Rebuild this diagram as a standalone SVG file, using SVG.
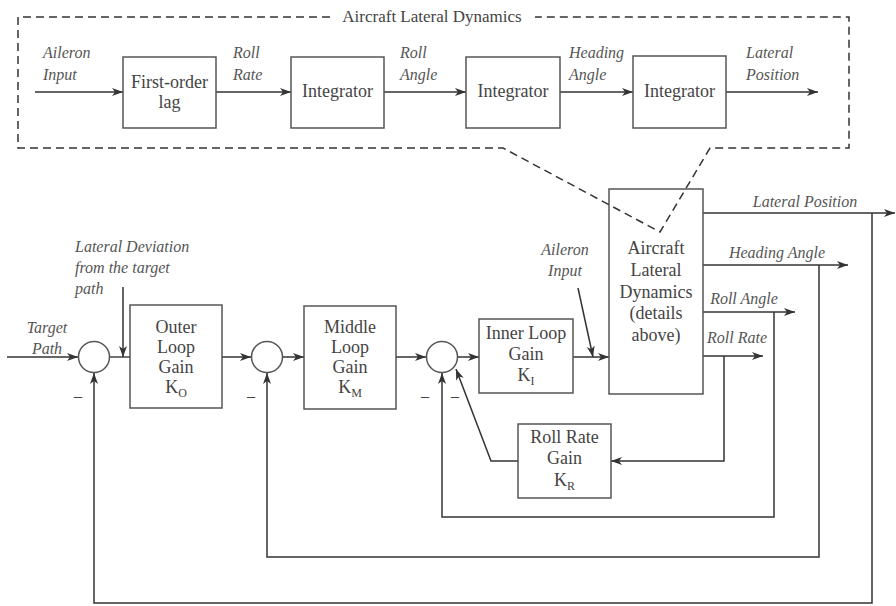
<svg xmlns="http://www.w3.org/2000/svg" width="896" height="606" viewBox="0 0 896 606">
<defs>
<marker id="ah" markerUnits="userSpaceOnUse" markerWidth="12" markerHeight="9" refX="11" refY="4" orient="auto">
<path d="M0,0 L11,4 L0,8 L3,4 z" fill="#333"/>
</marker>
<style>
.bx{fill:#fff;stroke:#555;stroke-width:1.5}
.ln{fill:none;stroke:#444;stroke-width:1.5}
.ar{fill:none;stroke:#333;stroke-width:1.5;marker-end:url(#ah)}
.ds{fill:none;stroke:#333;stroke-width:1.5;stroke-dasharray:8,5}
.t{font-family:"Liberation Serif","Times New Roman",serif;font-size:18px;fill:#444;text-anchor:middle}
.i{font-family:"Liberation Serif","Times New Roman",serif;font-size:16px;font-style:italic;fill:#555}
.ic{text-anchor:middle}
.sm{font-family:"Liberation Serif",serif;font-size:16px;fill:#444;text-anchor:middle}
.sub{font-size:12px}
</style>
</defs>
<rect width="896" height="606" fill="#fff"/>

<g id="connectors">
<!-- top chain -->
<line class="ar" x1="35" y1="92" x2="123" y2="92"/>
<line class="ar" x1="216" y1="92" x2="291" y2="92"/>
<line class="ar" x1="384" y1="92" x2="466" y2="92"/>
<line class="ar" x1="560" y1="92" x2="633" y2="92"/>
<line class="ar" x1="726" y1="92" x2="818" y2="92"/>
<!-- main forward path -->
<line class="ar" x1="7" y1="357" x2="78" y2="357"/>
<line class="ln" x1="110" y1="357" x2="130" y2="357"/>
<line class="ar" x1="123" y1="287" x2="123" y2="357"/>
<line class="ar" x1="222" y1="357" x2="251" y2="357"/>
<line class="ar" x1="283" y1="357" x2="304" y2="357"/>
<line class="ar" x1="396" y1="357" x2="426" y2="357"/>
<line class="ar" x1="458" y1="357" x2="479" y2="357"/>
<line class="ar" x1="573" y1="357" x2="609" y2="357"/>
<line class="ar" x1="578" y1="288" x2="593" y2="357"/>
<!-- outputs -->
<line class="ar" x1="703" y1="213" x2="895" y2="213"/>
<line class="ar" x1="703" y1="265" x2="848" y2="265"/>
<line class="ar" x1="703" y1="312" x2="795" y2="312"/>
<line class="ar" x1="703" y1="356" x2="763" y2="356"/>
<!-- feedback loops -->
<path class="ar" d="M872,213 L872,603 L94,603 L94,373"/>
<path class="ar" d="M819,265 L819,557 L267,557 L267,373"/>
<path class="ar" d="M774,312 L774,517 L442,517 L442,373"/>
<path class="ar" d="M724,356 L724,461 L611,461"/>
<path class="ar" d="M518,461 L491,461 L456,369"/>
</g>

<!-- top detail nodes -->
<g id="lag"><rect class="bx" x="123" y="57" width="93" height="71"/>
<text class="t" x="169.5" y="88">First-order</text><text class="t" x="169.5" y="108">lag</text></g>
<g id="int1"><rect class="bx" x="291" y="57" width="93" height="71"/><text class="t" x="337.5" y="97">Integrator</text></g>
<g id="int2"><rect class="bx" x="466" y="57" width="94" height="71"/><text class="t" x="513" y="97">Integrator</text></g>
<g id="int3"><rect class="bx" x="633" y="56" width="93" height="72"/><text class="t" x="679.5" y="97">Integrator</text></g>

<g id="top-labels">
<text class="i" x="43" y="58">Aileron</text><text class="i" x="43" y="80">Input</text>
<text class="i" x="233" y="58">Roll</text><text class="i" x="233" y="80">Rate</text>
<text class="i" x="400" y="58">Roll</text><text class="i" x="400" y="80">Angle</text>
<text class="i" x="569" y="58">Heading</text><text class="i" x="569" y="80">Angle</text>
<text class="i" x="746" y="58">Lateral</text><text class="i" x="746" y="80">Position</text>
</g>

<!-- summing junctions -->
<g id="sum1"><circle class="bx" cx="94" cy="357" r="15.5"/><text class="sm" x="78" y="401">–</text></g>
<g id="sum2"><circle class="bx" cx="267" cy="357" r="15.5"/><text class="sm" x="251" y="401">–</text></g>
<g id="sum3"><circle class="bx" cx="442" cy="357" r="15.5"/><text class="sm" x="425" y="401">–</text><text class="sm" x="455" y="401">–</text></g>

<g id="outer"><rect class="bx" x="130" y="305" width="92" height="103"/>
<text class="t" x="176" y="333">Outer</text><text class="t" x="176" y="353">Loop</text><text class="t" x="176" y="373">Gain</text>
<text class="t" x="176" y="393">K<tspan class="sub" dy="4">O</tspan></text></g>

<g id="middle"><rect class="bx" x="304" y="306" width="92" height="103"/>
<text class="t" x="350" y="333">Middle</text><text class="t" x="350" y="353">Loop</text><text class="t" x="350" y="373">Gain</text>
<text class="t" x="350" y="393">K<tspan class="sub" dy="4">M</tspan></text></g>

<g id="inner"><rect class="bx" x="479" y="319" width="94" height="74"/>
<text class="t" x="526" y="339">Inner Loop</text><text class="t" x="526" y="360">Gain</text>
<text class="t" x="526" y="381">K<tspan class="sub" dy="4">I</tspan></text></g>

<g id="rollrate"><rect class="bx" x="518" y="424" width="93" height="74"/>
<text class="t" x="564.5" y="443">Roll Rate</text><text class="t" x="564.5" y="464">Gain</text>
<text class="t" x="564.5" y="486">K<tspan class="sub" dy="4">R</tspan></text></g>

<g id="aircraft"><rect class="bx" x="609" y="189" width="94" height="205"/>
<text class="t" x="656" y="254">Aircraft</text><text class="t" x="656" y="276">Lateral</text>
<text class="t" x="656" y="298">Dynamics</text><text class="t" x="656" y="319">(details</text><text class="t" x="656" y="341">above)</text></g>

<g id="labels">
<text class="i ic" x="47" y="333">Target</text><text class="i ic" x="47" y="354">Path</text>
<text class="i" x="75" y="252">Lateral Deviation</text><text class="i" x="75" y="273">from the target</text><text class="i" x="75" y="294">path</text>
<text class="i ic" x="565" y="255">Aileron</text><text class="i ic" x="565" y="276">Input</text>
<text class="i ic" x="805" y="207">Lateral Position</text>
<text class="i ic" x="777" y="258">Heading Angle</text>
<text class="i ic" x="744" y="304">Roll Angle</text>
<text class="i ic" x="737" y="343">Roll Rate</text>
</g>

<!-- Dashed outline of Aircraft Lateral Dynamics detail -->
<g id="detail-frame">
<path class="ds" d="M330,17 L18,17 L18,148 L503,148 L660,232 L710,148 L849,148 L849,17 L535,17"/>
<text class="t" x="432" y="22" style="font-size:17px">Aircraft Lateral Dynamics</text>
</g>
</svg>
